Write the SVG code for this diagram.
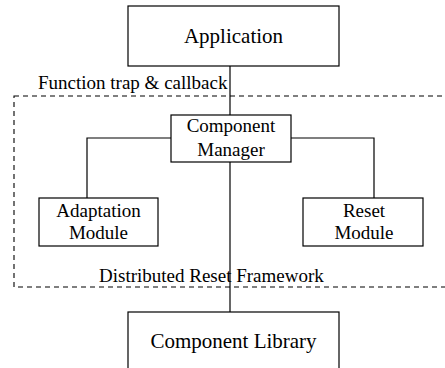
<svg xmlns="http://www.w3.org/2000/svg" width="445" height="368" viewBox="0 0 445 368">
<style>
.box{fill:#fff;stroke:#000;stroke-width:1.2}
.ln{fill:none;stroke:#000;stroke-width:1.2}
.dash{fill:none;stroke:#000;stroke-width:1.1;stroke-dasharray:5,4}
text{fill:#000;text-anchor:middle}
.big{font-size:21px}
.mid{font-size:19px}
.lbl{font-size:19px;text-anchor:start}
</style>
<rect width="445" height="368" fill="#fff"/>
<rect id="framework" class="dash" x="14" y="96" width="440" height="191"/>
<g id="connectors">
<line class="ln" x1="230" y1="66" x2="230" y2="312"/>
<polyline class="ln" points="171,138 87,138 87,198"/>
<polyline class="ln" points="291,138 374,138 374,198"/>
</g>
<g font-family="Liberation Serif, serif">
<g id="application">
<rect class="box" x="128" y="6" width="211" height="60"/>
<text class="big" x="233.5" y="43">Application</text>
</g>
<text class="lbl" x="38" y="89">Function trap &amp; callback</text>
<g id="component-manager">
<rect class="box" x="171" y="115" width="120" height="47"/>
<text class="mid" x="231" y="132">Component</text>
<text class="mid" x="231" y="156">Manager</text>
</g>
<g id="adaptation-module">
<rect class="box" x="39" y="198" width="119" height="48"/>
<text class="mid" x="98.5" y="217">Adaptation</text>
<text class="mid" x="98.5" y="239">Module</text>
</g>
<g id="reset-module">
<rect class="box" x="303" y="198" width="120" height="48"/>
<text class="mid" x="364" y="217">Reset</text>
<text class="mid" x="364" y="239">Module</text>
</g>
<text class="lbl" x="99" y="282">Distributed Reset Framework</text>
<g id="component-library">
<rect class="box" x="128" y="312" width="211" height="70"/>
<text class="big" x="233.5" y="348">Component Library</text>
</g>
</g>
</svg>
